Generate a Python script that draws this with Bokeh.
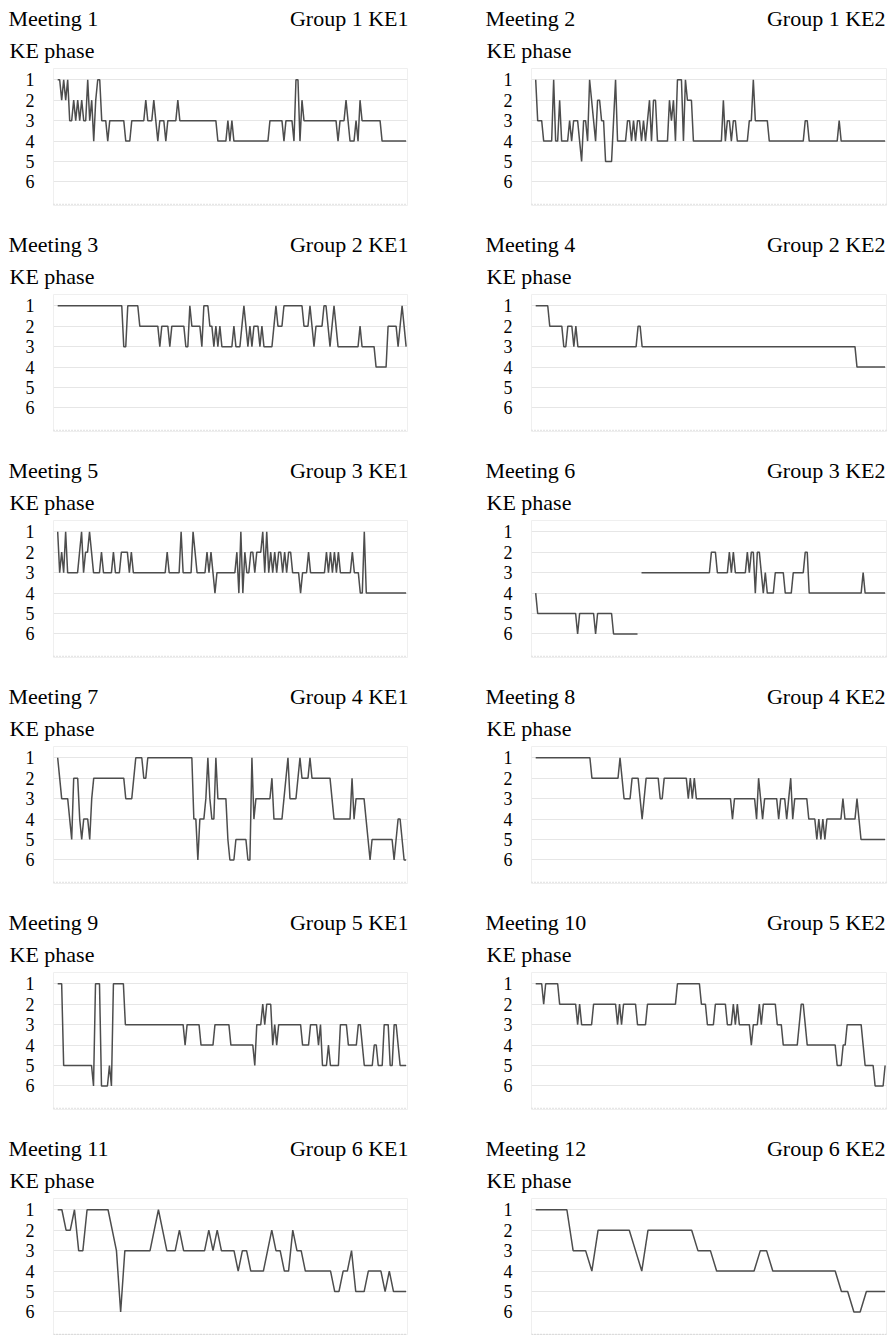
import numpy as np
from bokeh.plotting import figure
from bokeh.models import Range1d, FixedTicker, Label, Span
from bokeh.layouts import column, row
from bokeh.embed import file_html
from bokeh.resources import INLINE

nan = float("nan")

meetings = ["Meeting 1", "Meeting 2", "Meeting 3", "Meeting 4", "Meeting 5", "Meeting 6",
            "Meeting 7", "Meeting 8", "Meeting 9", "Meeting 10", "Meeting 11", "Meeting 12"]
groups = ["Group 1 KE1", "Group 1 KE2", "Group 2 KE1", "Group 2 KE2", "Group 3 KE1", "Group 3 KE2",
          "Group 4 KE1", "Group 4 KE2", "Group 5 KE1", "Group 5 KE2", "Group 6 KE1", "Group 6 KE2"]
phase_ticks = [1, 2, 3, 4, 5, 6]
y_label = "KE phase"

# Each meeting: sequence of KE phase episodes (phase) and their duration in time steps (dur)
m1_phase = [1,2,1,2,1,3,2,3,2,3,2,3,1,3,2,4,2,1,3,4,3,4,3,2,3,2,3,4,3,4,3,2,3,4,3,4,3,4,3,4,3,4,1,4,2,3,4,3,2,3,4,3,4,2,3,4]
m1_dur   = [2,1,1,1,1,2,1,1,1,1,1,2,1,1,1,1,1,2,3,1,8,3,7,1,3,1,1,1,3,1,5,1,19,5,1,1,1,18,7,1,4,1,2,1,1,17,1,3,1,1,3,1,1,1,10,13]

m2_phase = [1,3,4,1,4,2,4,3,4,3, 4,5,3,4,1,2,3,4,2,3, 5,3,1,4,3,4,3,4,3,4, 3,4,3,2,4,2,4,2,3,2, 4,1,4,1,2,4,2,4,3,4, 3,4,3,1,3,4,3,4,3,4]
m2_dur   = [1,3,5,1,2,1,4,1,1,3, 1,1,2,1,1,1,1,1,2,2, 4,1,1,5,2,1,1,1,2,1, 1,1,1,1,1,2,6,1,1,1, 1,3,1,1,3,15,1,1,2,1, 2,6,2,1,7,18,2,15,1,23]

m3_phase = [1,3,1,2,3,2,3,2,3,1, 2,3,1,2,3,2,3,2,3,2, 3,2,1,2,3,2,3,2,3,2, 3,2,1,2,1,2,1,2,3,2, 1,2,3,2,1,2,3,2,3,4, 2,3,2,1,2,3]
m3_dur   = [33,2,6,10,1,4,1,7,2,1, 5,1,3,2,1,1,1,1,6,1, 3,1,1,1,1,1,1,3,1,1, 5,1,1,3,10,3,1,1,1,4, 2,1,1,1,1,1,11,1,7,6, 5,1,1,1,1,1]

m4_phase = [1,2,3,2,3,2,3,2,3,4]
m4_dur   = [7,7,2,3,1,1,30,2,107,15]

m5_phase = [1,3,2,3,1,3,2,1,3,2, 1,2,3,2,3,2,3,2,3,2, 3,2,3,1,3,1,2,3,2,3, 2,3,4,3,2,4,1,4,2,3, 2,3,2,1,3,1,3,2,3,2, 3,2,3,2,3,2,3,4,3,2, 3,2,3,2,3,2,3,2,3,2, 3,4,1,4]
m5_dur   = [1,1,1,1,1,6,1,1,1,2, 1,1,4,1,5,1,3,4,1,1, 17,1,6,1,5,1,1,5,1,1, 1,1,1,10,1,1,1,1,1,2, 2,1,3,1,1,1,1,1,1,1, 1,2,1,1,1,2,4,1,3,1, 8,1,1,1,1,1,1,1,6,1, 3,2,1,21]

m6_phase = [4,5,6,5,6,5,6,nan,3,2, 3,2,3,2,3,2,3,2,4,2, 3,4,3,4,3,4,3,2,4,3, 4]
m6_dur   = [1,20,1,8,1,8,13,1,35,3, 6,1,1,1,6,1,1,2,1,2, 1,1,1,4,5,4,6,2,27,1, 11]

m7_phase = [1,2,3,4,5,2,4,5,4,5, 3,2,3,2,1,2,1,4,6,4, 3,1,3,4,1,3,5,6,5,6, 1,4,3,2,4,3,2,1,3,2, 1,2,1,2,3,4,2,4,3,4, 5,6,5,6,5,4,5,6]
m7_dur   = [1,1,4,1,1,3,1,1,3,1, 1,16,4,1,4,2,23,2,1,3, 1,1,1,2,1,5,1,3,6,2, 1,1,8,1,5,1,1,1,4,1, 1,4,1,10,1,9,1,1,5,1, 1,1,11,1,1,2,1,2]

m8_phase = [1,2,1,2,3,2,3,4,3,2, 3,2,3,2,3,2,3,4,3,4, 2,3,4,3,4,3,4,3,2,4, 3,4,5,4,5,4,5,4,3,4, 3,4,5]
m8_dur   = [28,14,1,1,4,4,1,1,1,7, 2,12,1,1,1,1,18,1,11,1, 1,1,1,7,1,3,1,1,1,1, 7,4,1,1,1,1,1,8,1,6, 1,1,13]

m9_phase = [1,5,6,1,6,5,6,1,3,4, 3,4,3,4,5,3,2,3,2,4, 3,4,3,4,3,4,3,5,4,5, 3,4,3,4,5,4,5,3,5,3, 4,5]
m9_dur   = [3,15,1,3,4,1,1,6,30,1, 7,7,8,12,1,3,1,1,3,1, 1,1,12,4,4,1,1,3,1,5, 4,5,2,1,5,2,3,3,2,2, 1,4]

m10_phase = [1,2,1,2,3,2,3,2,3,2, 3,2,3,2,1,2,3,2,3,2, 3,2,3,4,3,2,3,2,3,4, 3,2,3,4,5,4,3,4,5,6, 5]
m10_dur   = [4,1,7,9,1,1,6,12,1,1, 1,7,5,15,12,3,4,6,3,1, 1,1,6,1,3,1,1,7,3,8, 1,2,1,15,3,2,8,1,5,5, 1]

m11_phase = [1,2,1,3,1,2,3,6,3,2, 1,2,3,2,3,2,3,2,3,4, 3,4,3,2,3,4,2,3,4,5, 4,3,5,4,5,4,5]
m11_dur   = [2,2,1,2,6,1,1,1,7,1, 1,1,3,1,6,1,1,1,4,1, 2,4,1,1,2,2,1,2,7,2, 2,1,3,4,1,1,4]

m12_phase = [1,3,4,2,3,4,2,3,4,3,4,5,6,5]
m12_dur   = [6,3,1,6,1,1,8,3,7,2,11,2,2,4]

phases = [m1_phase, m2_phase, m3_phase, m4_phase, m5_phase, m6_phase,
          m7_phase, m8_phase, m9_phase, m10_phase, m11_phase, m12_phase]
durations = [m1_dur, m2_dur, m3_dur, m4_dur, m5_dur, m6_dur,
             m7_dur, m8_dur, m9_dur, m10_dur, m11_dur, m12_dur]

SERIF = "Liberation Serif"
FRAME_H = 137
HEAD_H = 68
GAP = 21


def make_head(i, w):
    col = i % 2
    h = figure(width=w, height=HEAD_H, output_backend="svg", toolbar_location=None, tools="",
               title=None, x_axis_location=None, y_axis_location=None,
               x_range=Range1d(0, w), y_range=Range1d(0, HEAD_H),
               min_border=0, outline_line_color=None, frame_align=False)
    h.xgrid.visible = False
    h.ygrid.visible = False
    tx = 8 if col == 0 else 5
    gx = 408 if col == 0 else 405
    common = dict(x_units="screen", y_units="screen", text_font=SERIF, text_font_size="22px",
                  text_color="black", text_baseline="alphabetic")
    h.add_layout(Label(x=tx, y=50, text=meetings[i], text_align="left", **common))
    h.add_layout(Label(x=gx, y=50, text=groups[i], text_align="right", **common))
    h.add_layout(Label(x=tx + 1, y=18, text=y_label, text_align="left", **common))
    return h


def make_panel(i):
    col = i % 2
    last = i >= 10
    y = np.repeat(np.array(phases[i], dtype=float), np.array(durations[i], dtype=int))
    x = np.arange(len(y))
    n = len(y) - 1
    if col == 0:
        w, bl, br = 480, 53, 73
    else:
        w, bl, br = 416, 51, 10
    bb = 0 if last else GAP
    p = figure(width=w, height=FRAME_H + bb, output_backend="svg", toolbar_location=None, tools="",
               title=None, x_axis_location=None, frame_align=False,
               x_range=Range1d(-0.012 * n, n * 1.004), y_range=Range1d(7.15, 0.45),
               min_border_left=bl, min_border_right=br, min_border_top=0, min_border_bottom=bb)
    p.background_fill_color = "white"
    p.border_fill_color = "white"
    p.outline_line_color = "#efefef"
    p.xgrid.visible = False
    p.ygrid.ticker = FixedTicker(ticks=phase_ticks)
    p.ygrid.grid_line_color = "#e6e6e6"
    p.ygrid.grid_line_width = 1
    ax = p.yaxis[0]
    ax.ticker = FixedTicker(ticks=phase_ticks)
    ax.axis_line_color = None
    ax.major_tick_line_color = None
    ax.minor_tick_line_color = None
    ax.major_label_text_font = SERIF
    ax.major_label_text_font_size = "18px"
    ax.major_label_text_color = "black"
    ax.major_label_standoff = 13

    p.add_layout(Span(location=7.09, dimension="width", line_color="#bdbdbd",
                      line_dash="1 2", line_width=1))
    p.line(x, y, line_color="#4d4d4d", line_width=1.5)
    return column(make_head(i, w), p)


panels = [make_panel(i) for i in range(12)]
layout = column(*[row(panels[2 * r], panels[2 * r + 1]) for r in range(6)])

open("out.html", "w").write(file_html(layout, INLINE))
